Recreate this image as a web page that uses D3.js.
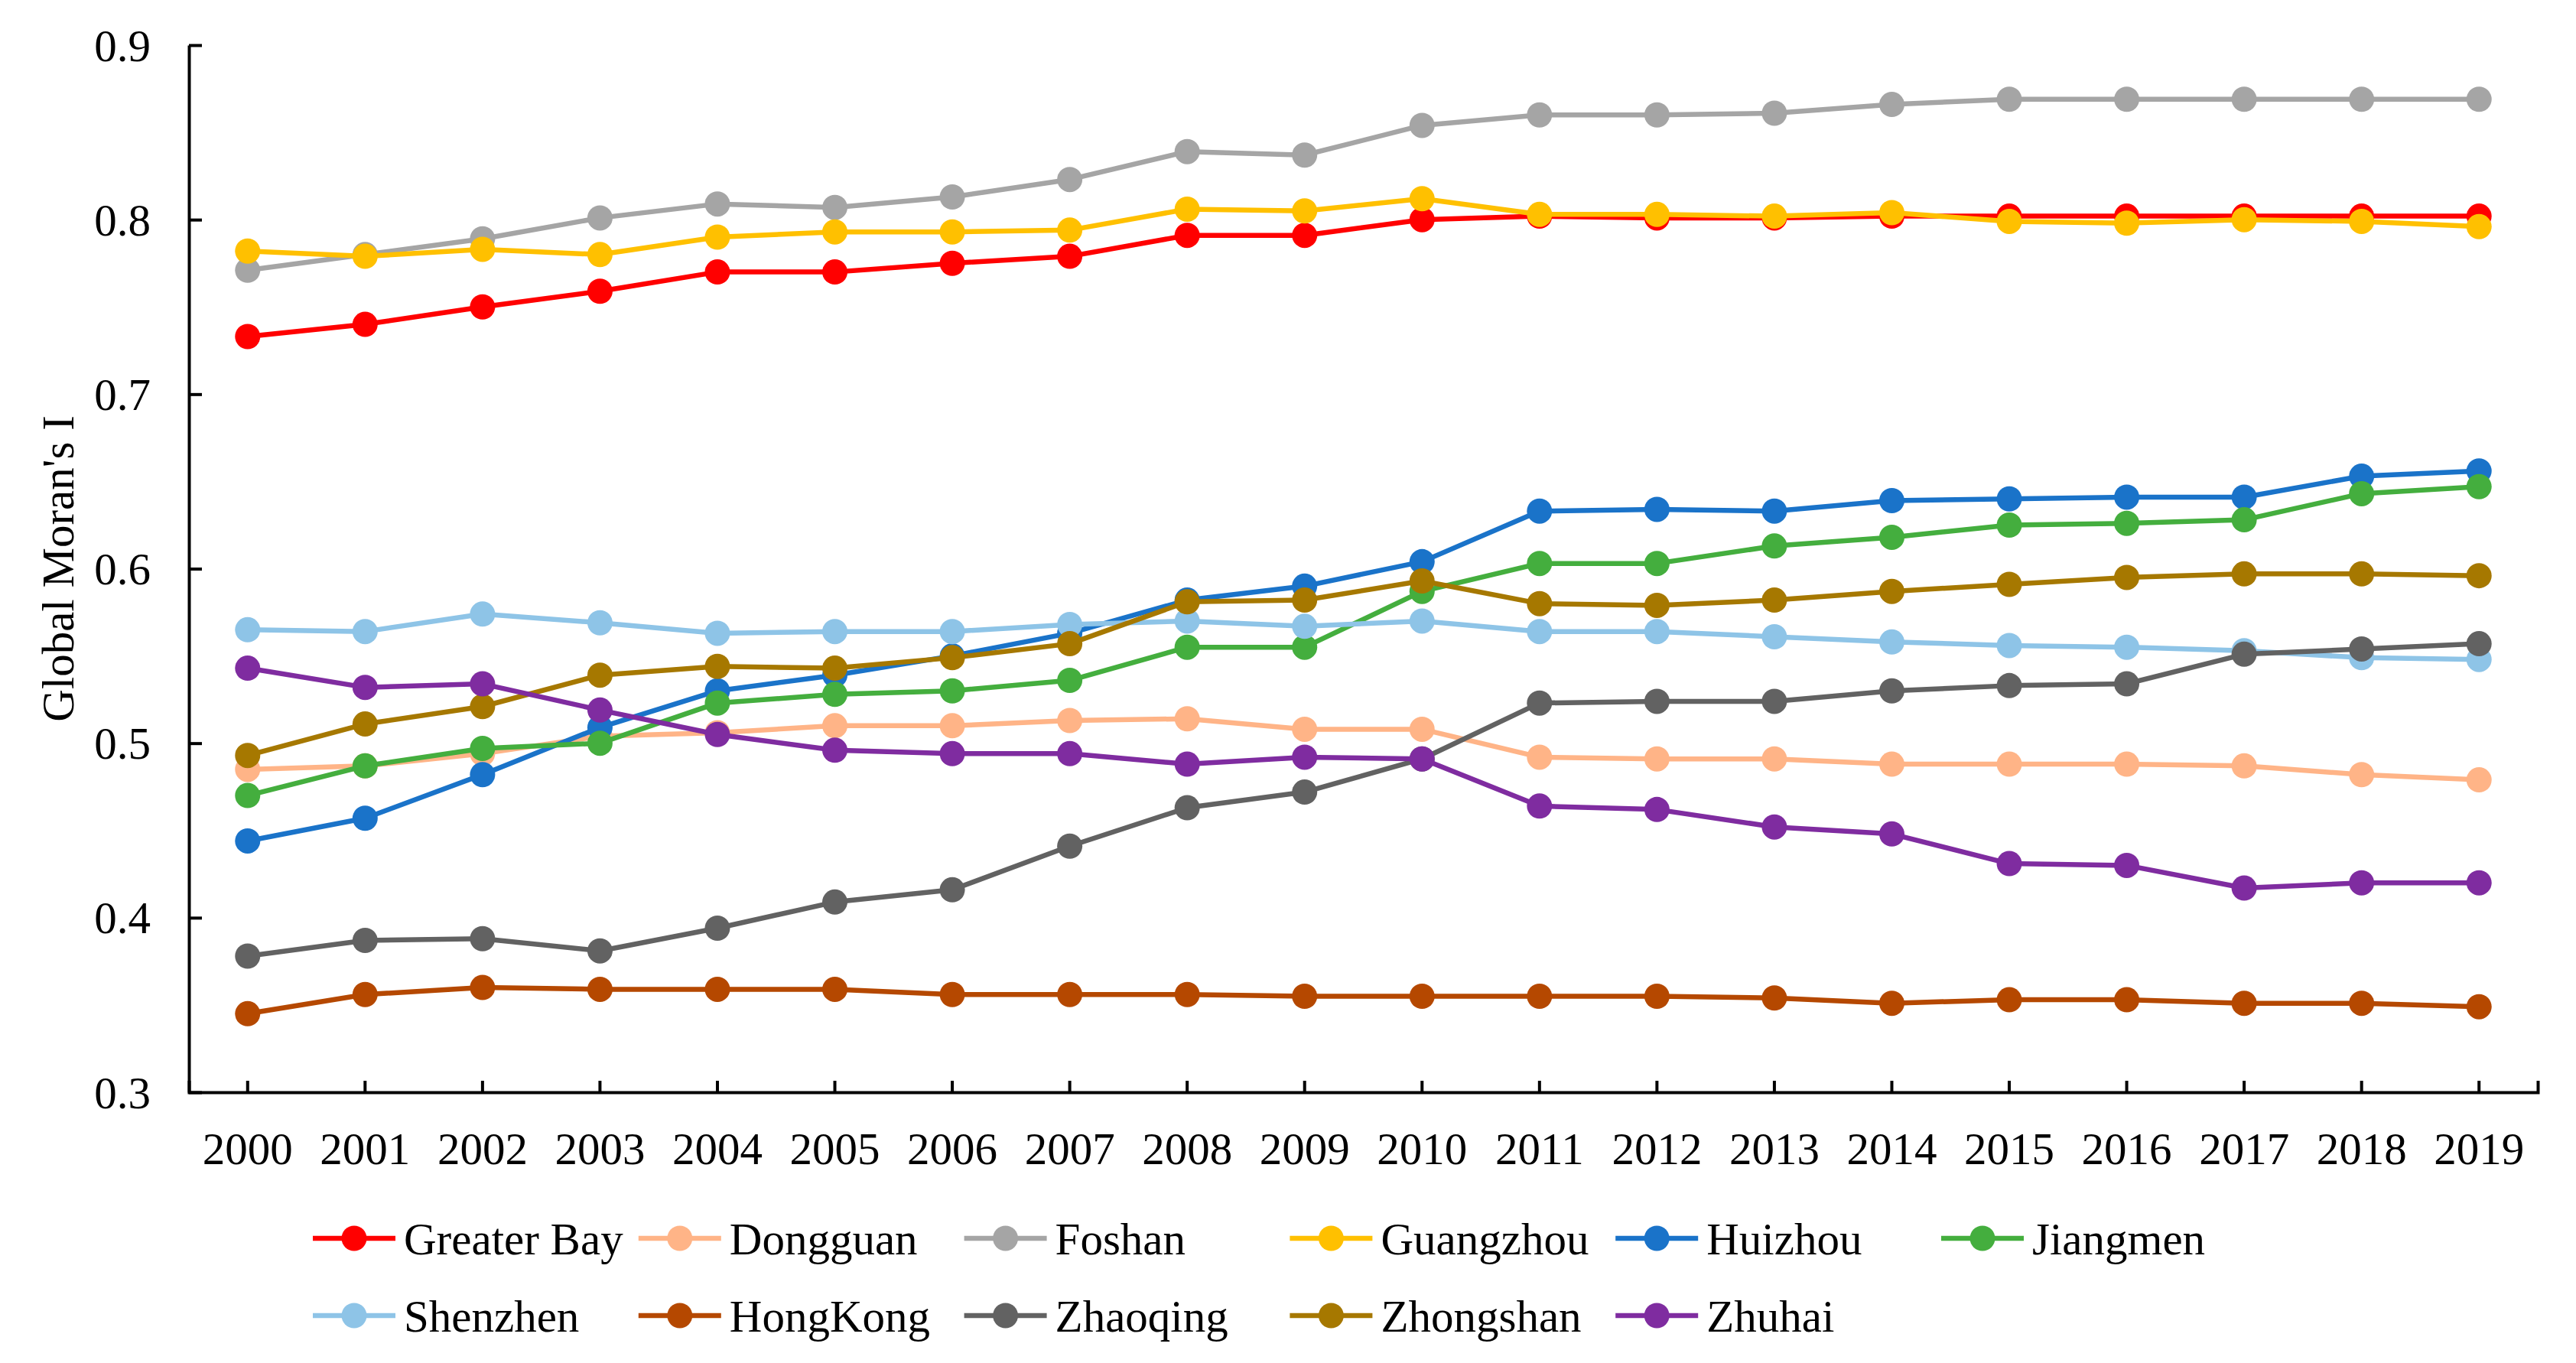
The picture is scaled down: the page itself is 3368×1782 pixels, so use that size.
<!DOCTYPE html>
<html>
<head>
<meta charset="utf-8">
<script src="https://cdn.jsdelivr.net/npm/d3@7"></script>
<style>
  body { margin: 0; background: #fff; }
  text { font-family: "Liberation Serif", "Times New Roman", serif; fill: #000; }
</style>
</head>
<body>
<div id="chart"></div>
<script>
// Data
var years = ["2000", "2001", "2002", "2003", "2004", "2005", "2006", "2007", "2008", "2009",
  "2010", "2011", "2012", "2013", "2014", "2015", "2016", "2017", "2018", "2019"];
var yTicks = [0.3, 0.4, 0.5, 0.6, 0.7, 0.8, 0.9];
var seriesNames = ["Greater Bay", "Dongguan", "Foshan", "Guangzhou", "Huizhou", "Jiangmen",
  "Shenzhen", "HongKong", "Zhaoqing", "Zhongshan", "Zhuhai"];

var greaterBay = [0.733, 0.740, 0.750, 0.759, 0.770, 0.770, 0.775, 0.779, 0.791, 0.791, 0.800, 0.802, 0.801, 0.801, 0.802, 0.802, 0.802, 0.802, 0.802, 0.802];
var dongguan = [0.485, 0.487, 0.494, 0.504, 0.506, 0.510, 0.510, 0.513, 0.514, 0.508, 0.508, 0.492, 0.491, 0.491, 0.488, 0.488, 0.488, 0.487, 0.482, 0.479];
var foshan = [0.771, 0.780, 0.789, 0.801, 0.809, 0.807, 0.813, 0.823, 0.839, 0.837, 0.854, 0.860, 0.860, 0.861, 0.866, 0.869, 0.869, 0.869, 0.869, 0.869];
var guangzhou = [0.782, 0.779, 0.783, 0.780, 0.790, 0.793, 0.793, 0.794, 0.806, 0.805, 0.812, 0.803, 0.803, 0.802, 0.804, 0.799, 0.798, 0.800, 0.799, 0.796];
var huizhou = [0.444, 0.457, 0.482, 0.509, 0.530, 0.539, 0.550, 0.563, 0.582, 0.590, 0.604, 0.633, 0.634, 0.633, 0.639, 0.640, 0.641, 0.641, 0.653, 0.656];
var jiangmen = [0.470, 0.487, 0.497, 0.500, 0.523, 0.528, 0.530, 0.536, 0.555, 0.555, 0.587, 0.603, 0.603, 0.613, 0.618, 0.625, 0.626, 0.628, 0.643, 0.647];
var shenzhen = [0.565, 0.564, 0.574, 0.569, 0.563, 0.564, 0.564, 0.568, 0.570, 0.567, 0.570, 0.564, 0.564, 0.561, 0.558, 0.556, 0.555, 0.553, 0.549, 0.548];
var hongKong = [0.345, 0.356, 0.360, 0.359, 0.359, 0.359, 0.356, 0.356, 0.356, 0.355, 0.355, 0.355, 0.355, 0.354, 0.351, 0.353, 0.353, 0.351, 0.351, 0.349];
var zhaoqing = [0.378, 0.387, 0.388, 0.381, 0.394, 0.409, 0.416, 0.441, 0.463, 0.472, 0.491, 0.523, 0.524, 0.524, 0.530, 0.533, 0.534, 0.551, 0.554, 0.557];
var zhongshan = [0.493, 0.511, 0.521, 0.539, 0.544, 0.543, 0.549, 0.557, 0.581, 0.582, 0.593, 0.580, 0.579, 0.582, 0.587, 0.591, 0.595, 0.597, 0.597, 0.596];
var zhuhai = [0.543, 0.532, 0.534, 0.519, 0.505, 0.496, 0.494, 0.494, 0.488, 0.492, 0.491, 0.464, 0.462, 0.452, 0.448, 0.431, 0.430, 0.417, 0.420, 0.420];

var seriesValues = [greaterBay, dongguan, foshan, guangzhou, huizhou, jiangmen,
  shenzhen, hongKong, zhaoqing, zhongshan, zhuhai];
var colors = ["#ff0000", "#ffb487", "#a5a5a5", "#ffc000", "#1a73c9", "#44ae3e",
  "#8ec4e7", "#b54800", "#626262", "#a67800", "#7f2ca0"];

var svgWidth = 3368;
var svgHeight = 1782;

// plot area edges (named so they don't clash with window.top)
var plotLeft = 247, plotRight = 3318, plotTop = 59, plotBottom = 1428;
var fontSize = 59;

var svg = d3
  .select("#chart")
  .append("svg")
  .attr("width", svgWidth)
  .attr("height", svgHeight);

svg.append("rect")
  .attr("width", svgWidth)
  .attr("height", svgHeight)
  .attr("fill", "#fff");

// Scales
var xScale = d3.scaleBand().domain(years).range([plotLeft, plotRight]);
var yScale = d3.scaleLinear().domain([0.3, 0.9]).range([plotBottom, plotTop]);
var xPos = function(i) { return xScale(years[i]) + xScale.bandwidth() / 2; };

// Axes (Excel-like: ticks pointing inside)
var xAxis = svg.append("g")
  .attr("transform", `translate(0, ${plotBottom})`)
  .call(d3.axisBottom(xScale).tickSize(-15).tickSizeOuter(-15).tickPadding(0).tickFormat(""));
xAxis.selectAll("path, line").attr("stroke", "#000").attr("stroke-width", 4);

var yAxis = svg.append("g")
  .attr("transform", `translate(${plotLeft}, 0)`)
  .call(d3.axisLeft(yScale).tickValues(yTicks).tickSize(-17).tickSizeOuter(0).tickFormat(""));
yAxis.selectAll("path, line").attr("stroke", "#000").attr("stroke-width", 4);

// tick labels
svg.append("g")
  .selectAll("text")
  .data(yTicks)
  .enter()
  .append("text")
  .attr("x", 197)
  .attr("y", d => yScale(d))
  .attr("dy", "0.35em")
  .attr("text-anchor", "end")
  .style("font-size", fontSize + "px")
  .text(d => d3.format(".1f")(d));

svg.append("g")
  .selectAll("text")
  .data(years)
  .enter()
  .append("text")
  .attr("x", d => xScale(d) + xScale.bandwidth() / 2)
  .attr("y", 1522)
  .attr("text-anchor", "middle")
  .style("font-size", fontSize + "px")
  .text(d => d);

// axis title
svg.append("text")
  .attr("transform", `translate(75, ${(plotTop + plotBottom) / 2}) rotate(-90)`)
  .attr("dy", "0.35em")
  .attr("text-anchor", "middle")
  .style("font-size", fontSize + "px")
  .text("Global Moran's I");

// Lines and markers
var line = d3.line()
  .x((d, i) => xPos(i))
  .y(d => yScale(d));

seriesValues.forEach(function(vals, k) {
  var g = svg.append("g");
  g.append("path")
    .datum(vals)
    .attr("d", line)
    .attr("fill", "none")
    .attr("stroke", colors[k])
    .attr("stroke-width", 6.5)
    .attr("stroke-linejoin", "round");
  g.selectAll("circle")
    .data(vals)
    .enter()
    .append("circle")
    .attr("cx", (d, i) => xPos(i))
    .attr("cy", d => yScale(d))
    .attr("r", 16.5)
    .attr("fill", colors[k]);
});

// Legend: 6 columns, 2 rows
var legendX = d3.scaleLinear().domain([0, 1]).range([463, 888.8]);
var legendY = [1619, 1720];

var legend = svg.append("g")
  .selectAll("g")
  .data(seriesNames)
  .enter()
  .append("g")
  .attr("transform", (d, i) => `translate(${legendX(i % 6)}, ${legendY[Math.floor(i / 6)]})`);

legend.append("line")
  .attr("x1", -54)
  .attr("x2", 54)
  .attr("stroke", (d, i) => colors[i])
  .attr("stroke-width", 6.5);

legend.append("circle")
  .attr("r", 16.5)
  .attr("fill", (d, i) => colors[i]);

legend.append("text")
  .attr("x", 65)
  .attr("dy", "0.35em")
  .style("font-size", fontSize + "px")
  .text(d => d);
</script>
</body>
</html>
